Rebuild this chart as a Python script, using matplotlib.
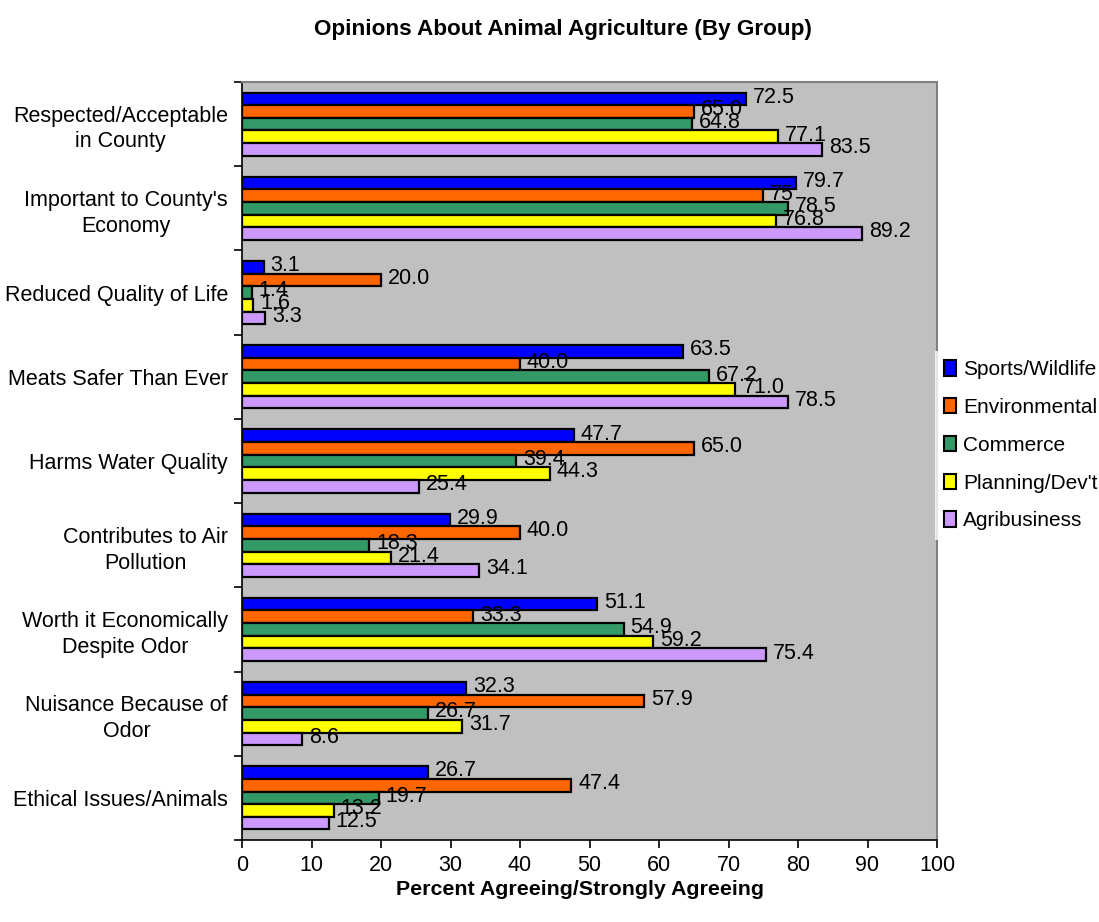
import matplotlib.pyplot as plt
import numpy as np
from matplotlib.patches import Patch
from matplotlib.ticker import FixedLocator

plt.rcParams['font.family'] = ['Liberation Sans', 'DejaVu Sans']

# Data (top to bottom)
categories = [
    "Respected/Acceptable\nin County",
    "Important to County's\nEconomy",
    "Reduced Quality of Life",
    "Meats Safer Than Ever",
    "Harms Water Quality",
    "Contributes to Air\nPollution",
    "Worth it Economically\nDespite Odor",
    "Nuisance Because of\nOdor",
    "Ethical Issues/Animals",
]
groups = ["Sports/Wildlife", "Environmental", "Commerce", "Planning/Dev't", "Agribusiness"]
colors = ["#0000FF", "#FF6600", "#339966", "#FFFF00", "#CC99FF"]

sports = [72.5, 79.7, 3.1, 63.5, 47.7, 29.9, 51.1, 32.3, 26.7]
environmental = [65.0, 75, 20.0, 40.0, 65.0, 40.0, 33.3, 57.9, 47.4]
commerce = [64.8, 78.5, 1.4, 67.2, 39.4, 18.3, 54.9, 26.7, 19.7]
planning = [77.1, 76.8, 1.6, 71.0, 44.3, 21.4, 59.2, 31.7, 13.2]
agribusiness = [83.5, 89.2, 3.3, 78.5, 25.4, 34.1, 75.4, 8.6, 12.5]

# label text as printed on the chart
env_labels = ["65.0", "75", "20.0", "40.0", "65.0", "40.0", "33.3", "57.9", "47.4"]

series = [sports, environmental, commerce, planning, agribusiness]
fs = 15.5

fig = plt.figure(figsize=(10.99, 9.22), dpi=100)
ax = fig.add_axes([242 / 1099, 1 - 840 / 922, 695 / 1099, 758 / 922])
ax.set_facecolor("#C0C0C0")

y = np.arange(len(categories))
h = 0.15
for i, (vals, col) in enumerate(zip(series, colors)):
    pos = y - 0.3 + i * h
    ax.barh(pos, vals, height=h, color=col, edgecolor="black", linewidth=1.6, zorder=2)
    for j, v in enumerate(vals):
        txt = env_labels[j] if i == 1 else f"{v:.1f}"
        ax.text(v + 1.0, pos[j] - 0.02, txt, va="center", ha="left", fontsize=fs, zorder=3)

ax.set_xlim(0, 100)
ax.set_ylim(len(categories) - 0.5, -0.5)
ax.set_xticks(np.arange(0, 101, 10))
ax.tick_params(axis="x", direction="out", length=6, width=1.2, labelsize=fs, pad=5)

ax.set_yticks(y)
ax.set_yticklabels(categories, fontsize=fs, linespacing=1.3, multialignment="center")
ax.tick_params(axis="y", which="major", length=0, pad=10)
ax.yaxis.set_minor_locator(FixedLocator(np.arange(-0.5, len(categories), 1)))
ax.tick_params(axis="y", which="minor", direction="out", length=6, width=1.2)

for side in ["top", "right"]:
    ax.spines[side].set_color("#808080")
    ax.spines[side].set_linewidth(1.5)
for side in ["left", "bottom"]:
    ax.spines[side].set_color("black")
    ax.spines[side].set_linewidth(1.2)

fig.text(563 / 1099, 1 - 30 / 922, "Opinions About Animal Agriculture (By Group)",
         ha="center", va="center", fontsize=16.2, fontweight="bold")
fig.text(580 / 1099, 1 - 889 / 922, "Percent Agreeing/Strongly Agreeing",
         ha="center", va="center", fontsize=15.4, fontweight="bold")

handles = [Patch(facecolor=c, edgecolor="black", linewidth=1.5) for c in colors]
leg = fig.legend(handles, groups, loc="upper left",
                 bbox_to_anchor=(935 / 1099, 1 - 351 / 922), fontsize=15,
                 handlelength=0.55, handleheight=0.75, handletextpad=0.35,
                 labelspacing=0.9, borderpad=0.45, borderaxespad=0,
                 fancybox=False, frameon=True)
leg.get_frame().set_facecolor("white")
leg.get_frame().set_edgecolor("none")

fig.savefig("out.png", dpi=100)
